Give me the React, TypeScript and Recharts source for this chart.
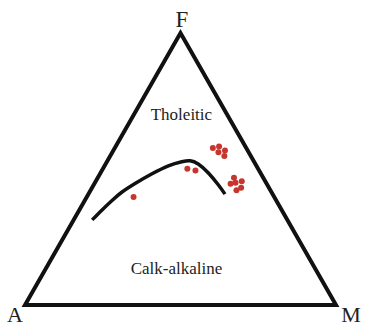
import React from 'react';
import { ComposedChart, Line, Scatter, XAxis, YAxis, ReferenceDot } from 'recharts';

// AFM ternary frame: A=(0,0), M=(100,0), F=(50,86.6)
const triangle = [
  { x: 0, y: 0 },
  { x: 100, y: 0 },
  { x: 50, y: 86.6 },
  { x: 0, y: 0 },
  { x: 100, y: 0 },
];

const boundary = [
  { x: 21.6, y: 27.1 },
  { x: 24.7, y: 30.2 },
  { x: 27.9, y: 33.2 },
  { x: 31.1, y: 35.9 },
  { x: 35.4, y: 38.7 },
  { x: 40.7, y: 41.7 },
  { x: 46.1, y: 44.3 },
  { x: 50.4, y: 45.6 },
  { x: 53.1, y: 45.9 },
  { x: 55.7, y: 44.9 },
  { x: 58.9, y: 42.1 },
  { x: 62.2, y: 38.2 },
  { x: 64.3, y: 35.3 },
];

const samples = [
  { x: 60.4, y: 50.0 },
  { x: 62.4, y: 50.5 },
  { x: 64.3, y: 49.2 },
  { x: 62.2, y: 48.6 },
  { x: 64.1, y: 47.4 },
  { x: 67.2, y: 40.5 },
  { x: 66.1, y: 38.6 },
  { x: 67.7, y: 38.9 },
  { x: 69.7, y: 39.4 },
  { x: 69.5, y: 37.3 },
  { x: 68.0, y: 36.5 },
  { x: 52.2, y: 43.4 },
  { x: 54.8, y: 42.8 },
  { x: 34.9, y: 34.4 },
];

const labels = [
  { text: 'F', x: 50, y: 86.6, dx: 1.5, dy: -6, size: 23 },
  { text: 'A', x: 0, y: 0, dx: -10, dy: 17, size: 22 },
  { text: 'M', x: 100, y: 0, dx: 15, dy: 17, size: 22 },
  { text: 'Tholeitic', x: 50.3, y: 60.9, dx: 0, dy: 6, size: 17 },
  { text: 'Calk-alkaline', x: 48.7, y: 11.7, dx: 0, dy: 6, size: 17 },
];

const font = 'Liberation Serif, DejaVu Serif, serif';

const makeLabel = (l: any) => (props: any) => {
  const vb = props.viewBox || {};
  const cx = vb.x + (vb.width || 0) / 2;
  const cy = vb.y + (vb.height || 0) / 2;
  return (
    <text x={cx + l.dx} y={cy + l.dy} textAnchor="middle" style={{ fontFamily: font, fontSize: l.size }} fill="#222">
      {l.text}
    </text>
  );
};

export default function App() {
  return (
    <div>
      <style>{'body{margin:0;background:#fff}'}</style>
      <ComposedChart width={365} height={327} margin={{ top: 33, right: 29, bottom: 22, left: 25 }}>
        <XAxis dataKey="x" type="number" domain={[0, 100]} hide />
        <YAxis dataKey="y" type="number" domain={[0, 86.6]} hide />
        <Line data={triangle} dataKey="y" type="linear" stroke="#111" strokeWidth={4} dot={false} isAnimationActive={false} strokeLinejoin="miter" />
        <Line data={boundary} dataKey="y" type="natural" stroke="#111" strokeWidth={3.5} dot={false} isAnimationActive={false} />
        <Scatter data={samples} dataKey="y" fill="#c8352e" isAnimationActive={false} shape={(p: any) => <circle cx={p.cx} cy={p.cy} r={3} fill="#c8352e" />} />
        {labels.map((l) => (
          <ReferenceDot key={l.text} x={l.x} y={l.y} r={1} fill="none" stroke="none" ifOverflow="visible" label={makeLabel(l)} />
        ))}
      </ComposedChart>
    </div>
  );
}
